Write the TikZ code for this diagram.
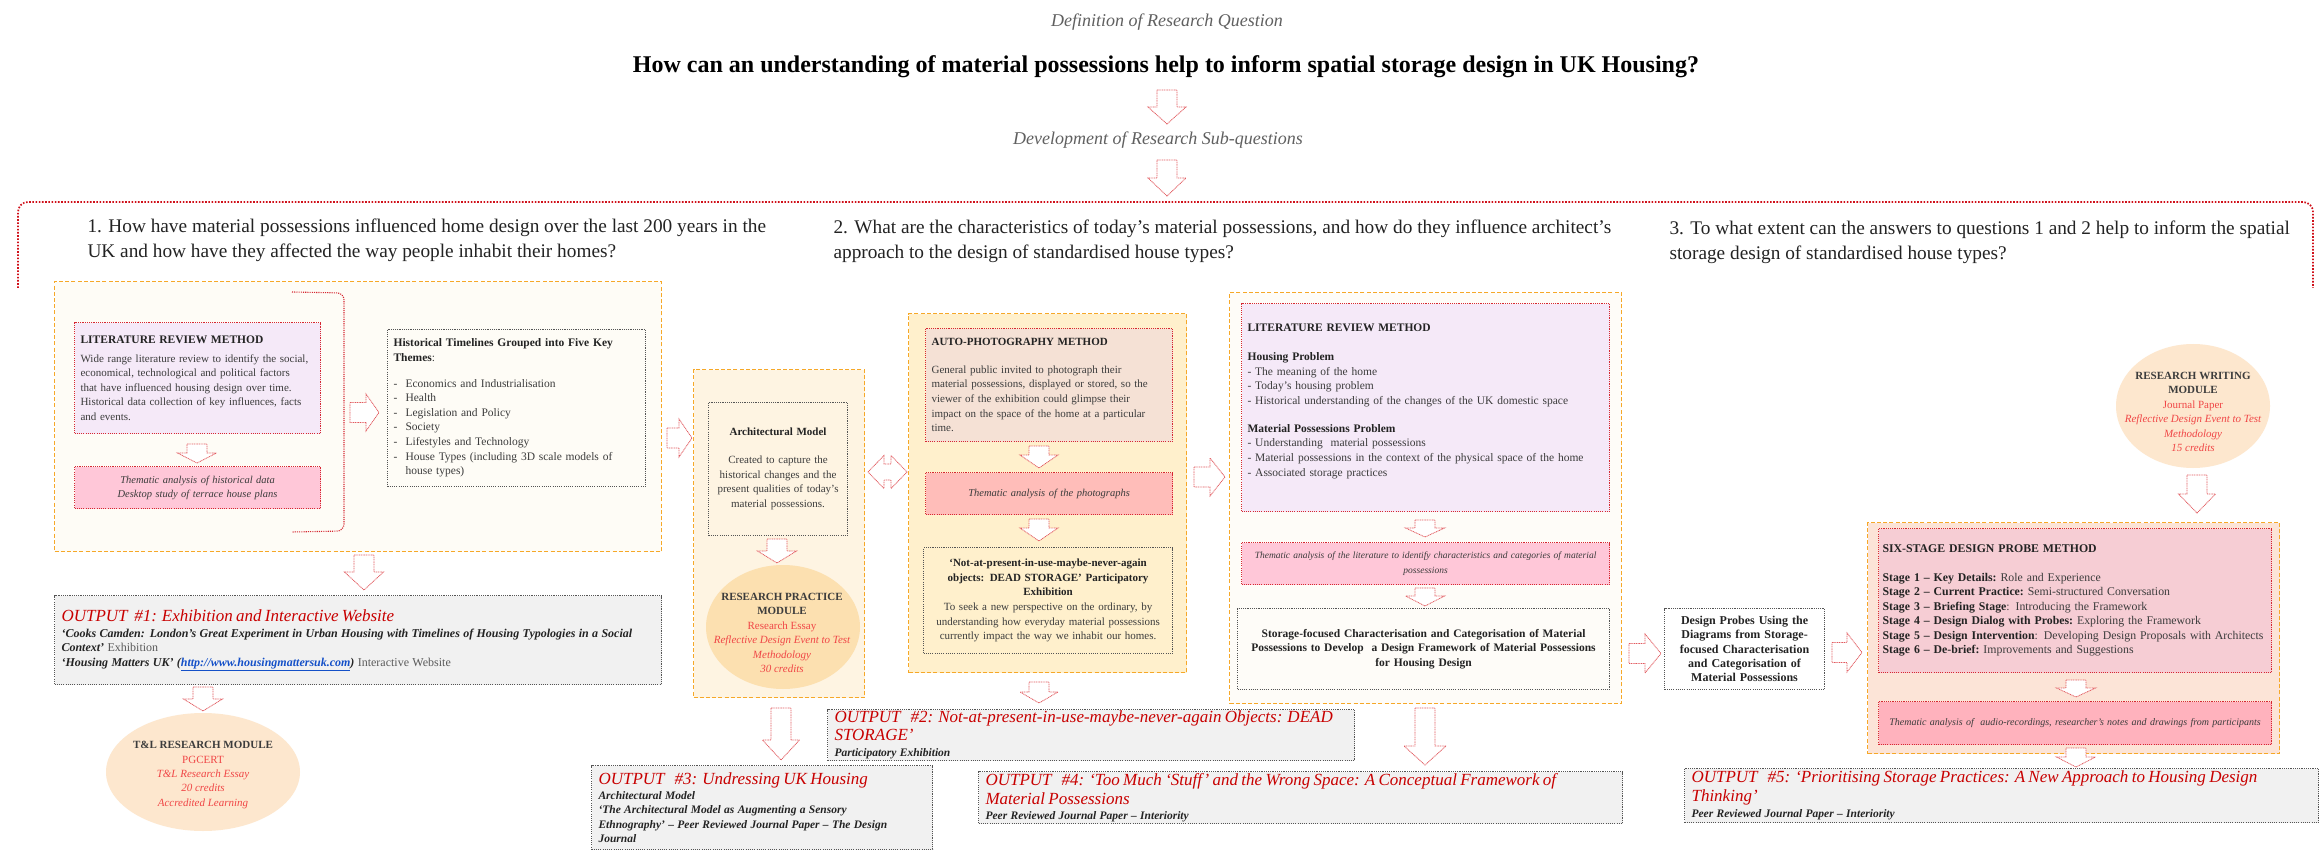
\documentclass[tikz,border=0pt]{standalone}
\usepackage{fontspec}
\setmainfont{Liberation Serif}
\usetikzlibrary{shapes.geometric}
\newcommand{\setfs}[2]{\fontsize{#1}{#2}\selectfont}
% block arrows: centre, start, head base, tip, head half-width
\newcommand{\blkdown}[5]{\draw[blockarrow] ({#1-10},#2) -- ({#1+10},#2) -- ({#1+10},#3) -- ({#1+#5},#3) -- (#1,#4) -- ({#1-#5},#3) -- ({#1-10},#3) -- cycle;}
\newcommand{\blkright}[5]{\draw[blockarrow] (#2,{#1-10}) -- (#3,{#1-10}) -- (#3,{#1-#5}) -- (#4,#1) -- (#3,{#1+#5}) -- (#3,{#1+10}) -- (#2,{#1+10}) -- cycle;}
\definecolor{orB}{RGB}{246,168,40}
\definecolor{redB}{RGB}{214,40,50}
\definecolor{grayB}{RGB}{85,85,85}
\definecolor{arrowR}{RGB}{226,90,95}
\definecolor{cream1}{RGB}{254,252,246}
\definecolor{cream2}{RGB}{254,244,226}
\definecolor{cream3}{RGB}{255,240,204}
\definecolor{cream4}{RGB}{254,252,248}
\definecolor{peach5}{RGB}{252,228,215}
\definecolor{lav}{RGB}{245,233,248}
\definecolor{pinkA}{RGB}{255,199,216}
\definecolor{beige}{RGB}{245,225,213}
\definecolor{salmon}{RGB}{255,189,185}
\definecolor{pinkS}{RGB}{246,205,212}
\definecolor{pinkT}{RGB}{255,178,189}
\definecolor{outgray}{RGB}{241,241,241}
\definecolor{ellA}{RGB}{253,231,206}
\definecolor{ellB}{RGB}{252,224,176}
\definecolor{outred}{RGB}{200,0,0}
\definecolor{ellred}{RGB}{240,70,70}
\definecolor{txt}{RGB}{60,60,60}
\definecolor{txtd}{RGB}{35,35,35}
\definecolor{txtl}{RGB}{90,90,90}
\definecolor{linkblue}{RGB}{20,80,200}
\definecolor{hdr}{RGB}{208,16,26}
\begin{document}
\begin{tikzpicture}[x=1pt,y=-1pt,
  panel/.style={draw=orB,line width=1.3pt,dash pattern=on 4pt off 2.2pt,anchor=north west,inner sep=0pt},
  redbox/.style={draw=redB,line width=1.1pt,dash pattern=on 1.1pt off 1.1pt,anchor=north west,inner xsep=6pt,inner ysep=3pt},
  blkbox/.style={draw=grayB,line width=1.1pt,dash pattern=on 1.1pt off 1.1pt,anchor=north west,inner xsep=6pt,inner ysep=3pt},
  outbox/.style={blkbox,fill=outgray,inner xsep=7pt,align=left},
  blockarrow/.style={draw=arrowR,line width=0.8pt,dash pattern=on 1pt off 0.7pt,fill=white},
  body/.style={text=txt,font=\setfs{11}{14.6}},
  qtext/.style={anchor=west,align=left,text=txtd,font=\setfs{19.3}{25}},
  module/.style={ellipse,draw=none,minimum width=154pt,minimum height=124pt},
  modtext/.style={align=center,text=txt,font=\setfs{11}{14.4}},
]
\fill[white] (0,0) rectangle (2319,850);
\useasboundingbox (0,0) rectangle (2319,850);

% ---------- heading ----------
\node[font=\setfs{18}{22}\itshape,text=gray!75!black] (defq) at (1167,22) {Definition of Research Question};
\node[font=\setfs{24}{28}\bfseries,text=black] (mainq) at (1166,67) {How can an understanding of material possessions help to inform spatial storage design in UK Housing?};
\node[font=\setfs{18}{22}\itshape,text=gray!75!black] (devq) at (1158,140) {Development of Research Sub-questions};
\blkdown{1167}{90}{107}{124}{19}
\blkdown{1167}{160}{178}{196}{19}
\draw[hdr,line width=1.7pt,dash pattern=on 1.6pt off 1.6pt,rounded corners=10pt] (18,288) -- (18,202) -- (2313,202) -- (2313,288);

\node[qtext] (q1) at (84,240) {1. How have material possessions influenced home design over the last 200 years in the\\UK and how have they affected the way people inhabit their homes?};
\node[qtext] (q2) at (830,241) {2. What are the characteristics of today's material possessions, and how do they influence architect's\\approach to the design of standardised house types?};
\node[qtext] (q3) at (1666,242) {3. To what extent can the answers to questions 1 and 2 help to inform the spatial\\storage design of standardised house types?};

% ---------- question 1 ----------
\node[panel,fill=cream1,minimum width=607pt,minimum height=270pt] (p1) at (54,281) {};
\draw[redB,line width=1.1pt,dash pattern=on 1.1pt off 1.1pt,rounded corners=7pt] (292,292) -- (344,293) -- (344,531) -- (292,532);
\node[redbox,fill=lav,minimum width=246pt,minimum height=111pt,text width=234pt,align=left,body] (lit1) at (74,322) {%
{\setfs{11.5}{14.6}\bfseries\color{txtd}LITERATURE REVIEW METHOD\par}\vspace{4.5pt}
Wide range literature review to identify the social,\\
economical, technological and political factors\\
that have influenced housing design over time.\\
Historical data collection of key influences, facts\\
and events.};
\node[redbox,fill=pinkA,minimum width=246pt,minimum height=42pt,text width=234pt,align=center,text=txt,font=\setfs{10.5}{14}\itshape] (pink1) at (74,466) {Thematic analysis of historical data\\Desktop study of terrace house plans};
\blkdown{197}{444}{453}{463}{19.5}
\node[blkbox,minimum width=258pt,minimum height=157pt,text width=246pt,align=left,text=txt,font=\setfs{11.5}{14.6}] (time) at (387,329) {%
\textbf{\color{txtd}Historical Timelines Grouped into Five Key}\\\textbf{\color{txtd}Themes}:\\[11pt]
\makebox[12pt][l]{-}Economics and Industrialisation\\
\makebox[12pt][l]{-}Health\\
\makebox[12pt][l]{-}Legislation and Policy\\
\makebox[12pt][l]{-}Society\\
\makebox[12pt][l]{-}Lifestyles and Technology\\
\makebox[12pt][l]{-}House Types (including 3D scale models of\\
\hspace*{12pt}house types)};
\blkright{412.5}{350}{366}{379}{18.5}

\blkdown{364}{555}{572}{590}{19.5}
\node[outbox,minimum width=607pt,minimum height=89pt,text width=593pt] (out1) at (54,595) {%
{\setfs{17}{19}\itshape\color{outred}OUTPUT\ \ \#1: Exhibition and Interactive Website\par}\vspace{1.5pt}
{\setfs{12}{14.6}\color{txtd}\bfseries\itshape `Cooks Camden: London's Great Experiment in Urban Housing with Timelines of Housing Typologies in a Social\\Context' {\mdseries\upshape\color{txtl}Exhibition}\\`Housing Matters UK' ({\color{linkblue}\underline{http://www.housingmattersuk.com}}) {\mdseries\upshape\color{txtl}Interactive Website}\par}};
\blkdown{203}{687}{699}{711}{19.5}
\node[module,fill=ellA] (tl) at (203,772) [minimum width=194pt,minimum height=118pt] {};
\node[modtext] (tltext) at (203,775) {\textbf{T\&L RESEARCH MODULE}\\{\color{ellred}PGCERT}\\{\color{ellred}\itshape T\&L Research Essay}\\{\color{ellred}\itshape 20 credits}\\{\color{ellred}\itshape Accredited Learning}};

% ---------- architectural model ----------
\blkright{438}{667}{679}{692}{19}
\node[panel,fill=cream2,minimum width=171pt,minimum height=328pt] (p2) at (693,369) {};
\node[blkbox,minimum width=139pt,minimum height=133pt,text width=130pt,inner xsep=4.5pt,align=center,body] (arch) at (708,402) {%
{\bfseries\color{txtd}Architectural Model\par}\vspace{13pt}
Created to capture the\\historical changes and the\\present qualities of today's\\material possessions.};
\blkdown{777}{539}{551}{563}{19.5}
\node[module,fill=ellB] (rp) at (783,627) {};
\node[modtext] (rptext) at (782,633) {\textbf{RESEARCH PRACTICE}\\\textbf{MODULE}\\{\color{ellred}Research Essay}\\{\color{ellred}\itshape Reflective Design Event to Test}\\{\color{ellred}\itshape Methodology}\\{\color{ellred}\itshape 30 credits}};
\draw[blockarrow] (868,472) -- (884,455.5) -- (884,464) -- (891,464) -- (891,455.5) -- (907,472) -- (891,488.5) -- (891,480) -- (884,480) -- (884,488.5) -- cycle;

% ---------- auto-photography ----------
\node[panel,fill=cream3,minimum width=278pt,minimum height=359pt] (p3) at (908,313) {};
\node[redbox,fill=beige,minimum width=247pt,minimum height=113pt,text width=235pt,align=left,body] (auto) at (925,328) {%
{\bfseries\color{txtd}AUTO-PHOTOGRAPHY METHOD\par}\vspace{13pt}
General public invited to photograph their\\
material possessions, displayed or stored, so the\\
viewer of the exhibition could glimpse their\\
impact on the space of the home at a particular\\
time.};
\blkdown{1039}{446}{455}{468}{19}
\node[redbox,fill=salmon,minimum width=247pt,minimum height=42pt,text width=235pt,align=center,text=txt,font=\setfs{10.5}{14}\itshape] (them3) at (925,472) {Thematic analysis of the photographs};
\blkdown{1039}{519}{528}{541}{19}
\node[blkbox,minimum width=249pt,minimum height=106pt,text width=240pt,inner xsep=4.5pt,align=center,body] (dead) at (923,547) {%
{\bfseries\color{txtd}`Not-at-present-in-use-maybe-never-again\\objects: DEAD STORAGE' Participatory\\Exhibition\par}
To seek a new perspective on the ordinary, by\\
understanding how everyday material possessions\\
currently impact the way we inhabit our homes.};
\blkright{477}{1194}{1210}{1225}{19}

\blkdown{1039}{682}{692}{703}{19}
\node[outbox,minimum width=527pt,minimum height=51pt,text width=513pt,inner ysep=1pt] (out2) at (827,709) {%
{\setfs{17}{18.5}\itshape\color{outred}OUTPUT\ \ \ \#2: Not-at-present-in-use-maybe-never-again Objects: DEAD\\STORAGE'\par}\vspace{1.5pt}
{\setfs{11.5}{14.5}\bfseries\itshape\color{txtd}Participatory Exhibition\par}};
\blkdown{781}{708}{740}{760}{18.5}
\node[outbox,minimum width=341pt,minimum height=84pt,text width=327pt,inner ysep=1pt] (out3) at (591,765) {%
{\setfs{17}{19}\itshape\color{outred}OUTPUT\ \ \ \#3: Undressing UK Housing\par}\vspace{1pt}
{\setfs{11.5}{14.3}\bfseries\itshape\color{txtd}Architectural Model\\`The Architectural Model as Augmenting a Sensory\\Ethnography' -- Peer Reviewed Journal Paper -- The Design\\Journal\par}};

% ---------- literature review (question 2) ----------
\node[panel,fill=cream4,minimum width=392pt,minimum height=411pt] (p4) at (1229,292) {};
\node[redbox,fill=lav,minimum width=368pt,minimum height=208pt,text width=356pt,align=left,text=txt,font=\setfs{11.5}{14.7}] (lit2) at (1241,303) {%
{\bfseries\color{txtd}LITERATURE REVIEW METHOD\par}\vspace{14pt}
{\bfseries\color{txtd}Housing Problem}\\
- The meaning of the home\\
- Today's housing problem\\
- Historical understanding of the changes of the UK domestic space\\[13pt]
{\bfseries\color{txtd}Material Possessions Problem}\\
- Understanding\ \ material possessions\\
- Material possessions in the context of the physical space of the home\\
- Associated storage practices\\
\mbox{}};
\blkdown{1425}{520}{528}{537}{19.5}
\node[redbox,fill=pinkA,minimum width=368pt,minimum height=42pt,text width=364pt,inner xsep=2pt,align=center,text=txt,font=\setfs{9.5}{14.5}\itshape] (them2) at (1241,542) {\mbox{Thematic analysis of the literature to identify characteristics and categories of material}\\possessions};
\blkdown{1425}{588}{596}{606}{19.5}
\node[blkbox,fill=cream4,minimum width=372pt,minimum height=81pt,text width=362pt,inner xsep=5pt,align=center,text=txtd,font=\setfs{11.5}{14.5}\bfseries] (stor) at (1237,608) {Storage-focused Characterisation and Categorisation of Material\\Possessions to Develop\ \ a Design Framework of Material Possessions\\for Housing Design};
\blkdown{1425}{708}{746}{765}{21}
\node[outbox,minimum width=644pt,minimum height=52pt,text width=630pt,inner ysep=1pt] (out4) at (978,771) {%
{\setfs{17}{19}\itshape\color{outred}OUTPUT\ \ \ \#4: `Too Much `Stuff' and the Wrong Space: A Conceptual Framework of\\Material Possessions\par}\vspace{1pt}
{\setfs{11.5}{14.5}\bfseries\itshape\color{txtd}Peer Reviewed Journal Paper -- Interiority\par}};

% ---------- design probes (question 3) ----------
\blkright{653.5}{1629}{1645}{1661}{19.5}
\node[blkbox,minimum width=160pt,minimum height=81pt,text width=152pt,inner xsep=4pt,align=center,text=txtd,font=\setfs{12}{14.3}\bfseries] (probe) at (1664,608) {Design Probes Using the\\Diagrams from Storage-\\focused Characterisation\\and Categorisation of\\Material Possessions};
\blkright{652.5}{1832}{1847}{1862}{19.5}
\node[module,fill=ellA] (rw) at (2193,406) {};
\node[modtext] (rwtext) at (2193,412) {\textbf{RESEARCH WRITING}\\\textbf{MODULE}\\{\color{ellred}Journal Paper}\\{\color{ellred}\itshape Reflective Design Event to Test}\\{\color{ellred}\itshape Methodology}\\{\color{ellred}\itshape 15 credits}};
\blkdown{2197}{475}{494}{513}{18.5}
\node[panel,fill=peach5,minimum width=412pt,minimum height=231pt] (p5) at (1867,522) {};
\node[redbox,fill=pinkS,minimum width=393pt,minimum height=144pt,text width=385pt,inner xsep=4pt,align=left,text=txt,font=\setfs{11.8}{14.5}] (six) at (1878,528) {%
{\bfseries\color{txtd}SIX-STAGE DESIGN PROBE METHOD\par}\vspace{14pt}
\mbox{\bfseries\color{txtd}Stage 1 -- Key Details:} Role and Experience\\
\mbox{\bfseries\color{txtd}Stage 2 -- Current Practice:} Semi-structured Conversation\\
\mbox{\bfseries\color{txtd}Stage 3 -- Briefing Stage}: Introducing the Framework\\
\mbox{\bfseries\color{txtd}Stage 4 -- Design Dialog with Probes:} Exploring the Framework\\
\mbox{{\bfseries\color{txtd}Stage 5 -- Design Intervention}: Developing Design Proposals with Architects}\\
\mbox{\bfseries\color{txtd}Stage 6 -- De-brief:} Improvements and Suggestions};
\blkdown{2076}{680}{688}{697}{19.5}
\node[redbox,fill=pinkT,minimum width=393pt,minimum height=43pt,text width=381pt,align=center,text=txt,font=\setfs{10}{14}\itshape] (them5) at (1878,701) {Thematic analysis of\ \ audio-recordings, researcher's notes and drawings from participants};
\blkdown{2076}{748}{757}{767}{19.5}
\node[outbox,minimum width=634pt,minimum height=54pt,text width=620pt,inner ysep=1pt] (out5) at (1684,768) {%
{\setfs{17}{19}\itshape\color{outred}OUTPUT\ \ \ \#5: `Prioritising Storage Practices: A New Approach to Housing Design\\Thinking'\par}\vspace{1pt}
{\setfs{11.5}{14.5}\bfseries\itshape\color{txtd}Peer Reviewed Journal Paper -- Interiority\par}};
\end{tikzpicture}
\end{document}
